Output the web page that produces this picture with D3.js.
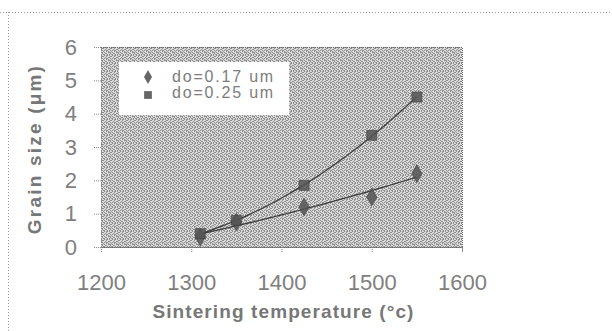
<!DOCTYPE html>
<html>
<head>
<meta charset="utf-8">
<script src="https://cdn.jsdelivr.net/npm/d3@7"></script>
<style>
  body { margin: 0; background: #fff; }
  svg text { font-family: "Liberation Sans", Arial, sans-serif; }
</style>
</head>
<body>
<svg id="chart" width="612" height="331"></svg>
<script>
// sintering temperature (°C)
var temps = [1310, 1350, 1425, 1500, 1550];
// grain size (um) for each starting particle size
var grain017 = [0.3, 0.75, 1.2, 1.5, 2.2];
var grain025 = [0.4, 0.8, 1.85, 3.35, 4.5];
var seriesNames = ["do=0.17 um", "do=0.25 um"];
var xTicks = [1200, 1300, 1400, 1500, 1600];
var yTicks = [0, 1, 2, 3, 4, 5, 6];

var svg = d3.select("#chart");
var margin = {top: 47, right: 150, bottom: 84, left: 101};
var width = 612 - margin.left - margin.right;
var height = 331 - margin.top - margin.bottom;

// dithered grey texture of the plot area (maze-like halftone)
var tile = [
    "#..#.##.",
    ".##..#..",
    "#...#..#",
    ".#.#.##.",
    "..#..#.#",
    "##.#...#",
    ".#..##..",
    "#.##..#."
];
var pat = svg.append("defs").append("pattern")
    .attr("id", "dither")
    .attr("width", 8).attr("height", 8)
    .attr("patternUnits", "userSpaceOnUse");
pat.append("rect").attr("width", 8).attr("height", 8).attr("fill", "#dcdcdc");
tile.forEach(function(row, r) {
    row.split("").forEach(function(ch, c) {
        if (ch === "#") pat.append("rect").attr("x", c).attr("y", r)
            .attr("width", 1).attr("height", 1).attr("fill", "#8c8c8c");
    });
});

// outer dotted frame
svg.append("line").attr("x1", 0).attr("x2", 612).attr("y1", 12.5).attr("y2", 12.5)
    .attr("stroke", "#999").attr("stroke-dasharray", "1,2");
svg.append("line").attr("x1", 8.5).attr("x2", 8.5).attr("y1", 12).attr("y2", 331)
    .attr("stroke", "#999").attr("stroke-dasharray", "1,2");

var g = svg.append("g").attr("transform", "translate(" + margin.left + "," + margin.top + ")");

var x = d3.scaleLinear().domain([1200, 1600]).range([0, width]);
var y = d3.scaleLinear().domain([0, 6]).range([height, 0]);

g.append("rect")
    .attr("width", width).attr("height", height)
    .attr("fill", "url(#dither)")
    .attr("shape-rendering", "crispEdges")
    .attr("stroke", "#666").attr("stroke-dasharray", "1,1");

// axes
var xAxis = g.append("g")
    .attr("transform", "translate(0," + height + ")")
    .call(d3.axisBottom(x).tickValues(xTicks).tickSize(5).tickPadding(22).tickFormat(d3.format("d")));
var yAxis = g.append("g")
    .call(d3.axisLeft(y).tickValues(yTicks).tickSize(7).tickPadding(17).tickFormat(d3.format("d")));
[xAxis, yAxis].forEach(function(a) {
    a.select(".domain").attr("stroke", "#888").attr("stroke-dasharray", "1,1");
    a.selectAll(".tick line").attr("stroke", "#888").attr("stroke-dasharray", "1,1");
    a.selectAll("text").attr("fill", "#808080").attr("font-size", 22);
});

// quadratic least squares trend line, like the spreadsheet's polynomial fit
function quadFit(xs, ys) {
    var n = xs.length, m = d3.mean(xs);
    var u = xs.map(function(v) { return (v - m) / 100; });
    var s = [0, 0, 0, 0, 0], t = [0, 0, 0];
    for (var i = 0; i < n; i++) {
        for (var k = 0; k < 5; k++) s[k] += Math.pow(u[i], k);
        for (var k2 = 0; k2 < 3; k2++) t[k2] += ys[i] * Math.pow(u[i], k2);
    }
    var A = [[s[0], s[1], s[2]], [s[1], s[2], s[3]], [s[2], s[3], s[4]]];
    var det = function(M) {
        return M[0][0] * (M[1][1] * M[2][2] - M[1][2] * M[2][1])
             - M[0][1] * (M[1][0] * M[2][2] - M[1][2] * M[2][0])
             + M[0][2] * (M[1][0] * M[2][1] - M[1][1] * M[2][0]);
    };
    var D = det(A), c = [];
    for (var j = 0; j < 3; j++) {
        var B = A.map(function(row, r) { var rr = row.slice(); rr[j] = t[r]; return rr; });
        c.push(det(B) / D);
    }
    return function(v) { var w = (v - m) / 100; return c[0] + c[1] * w + c[2] * w * w; };
}

var series = [
    {name: seriesNames[0], values: grain017, symbol: d3.symbolDiamond},
    {name: seriesNames[1], values: grain025, symbol: d3.symbolSquare}
];

var line = d3.line().x(function(d) { return x(d[0]); }).y(function(d) { return y(d[1]); }).curve(d3.curveBasis);

series.forEach(function(s) {
    var f = quadFit(temps, s.values);
    var lo = d3.min(temps), hi = d3.max(temps);
    var pts = d3.range(0, 41).map(function(i) { var tv = lo + (hi - lo) * i / 40; return [tv, f(tv)]; });
    g.append("path").datum(pts)
        .attr("d", line)
        .attr("fill", "none")
        .attr("stroke", "#3a3a3a")
        .attr("stroke-width", 1.2);
});

series.forEach(function(s) {
    g.selectAll(null).data(s.values).enter().append("path")
        .attr("transform", function(d, i) { return "translate(" + x(temps[i]) + "," + y(d) + ")"; })
        .attr("d", d3.symbol().type(s.symbol).size(s.symbol === d3.symbolSquare ? 100 : 90))
        .attr("fill", "#555")
        .attr("fill-opacity", 0.85)
        .attr("stroke", "#3a3a3a")
        .attr("stroke-width", 0.6);
});

// legend
var leg = g.append("g").attr("transform", "translate(18,15)");
leg.append("rect").attr("width", 170).attr("height", 53).attr("fill", "#fff");
series.forEach(function(s, i) {
    leg.append("path")
        .attr("transform", "translate(29," + (15 + i * 18) + ")")
        .attr("d", d3.symbol().type(s.symbol).size(s.symbol === d3.symbolSquare ? 60 : 55))
        .attr("fill", "#666");
    leg.append("text")
        .attr("x", 53).attr("y", 20 + i * 16)
        .attr("font-size", 16).attr("letter-spacing", 1.8)
        .attr("fill", "#7c7c7c")
        .text(s.name);
});

// axis titles
svg.append("text")
    .attr("x", margin.left + width / 2 + 2).attr("y", 318)
    .attr("text-anchor", "middle")
    .attr("font-size", 19).attr("font-weight", "bold").attr("letter-spacing", 1.1)
    .attr("fill", "#777")
    .text("Sintering temperature (°c)");
svg.append("text")
    .attr("transform", "translate(41," + (margin.top + height / 2 + 2) + ") rotate(-90)")
    .attr("text-anchor", "middle")
    .attr("font-size", 19).attr("font-weight", "bold").attr("letter-spacing", 2.2)
    .attr("fill", "#777")
    .text("Grain size (\u03bcm)");
</script>
</body>
</html>
